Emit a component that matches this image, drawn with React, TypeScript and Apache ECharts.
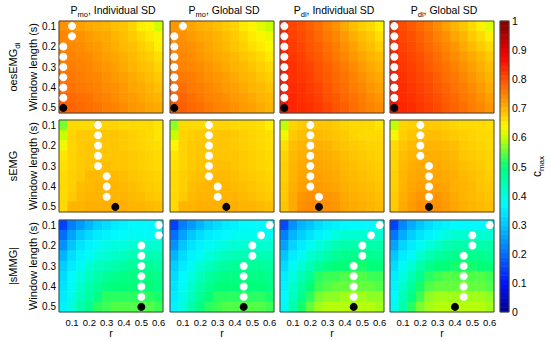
import React, { useEffect, useRef } from 'react';
import * as echarts from 'echarts';

// ---------- categories / ticks ----------
const rCats = ['0.05', '0.1', '0.15', '0.2', '0.25', '0.3', '0.35', '0.4', '0.45', '0.5', '0.55', '0.6'];
const wCats = ['0.1', '0.15', '0.2', '0.25', '0.3', '0.35', '0.4', '0.45', '0.5'];
const colSubs = ['mo', 'mo', 'di', 'di'];
const colNames = ['Individual SD', 'Global SD', 'Individual SD', 'Global SD'];
const rowMain = ['oesEMG', 'sEMG', '|sMMG|'];
const rowSubs = ['di', '', ''];
const colorbarTicks = [0, 1, 0.1]; // min, max, interval

// ---------- c_max values (rows = window length 0.1..0.5, cols = r 0.05..0.6) ----------
const oesPmoInd = [
  [0.735, 0.73, 0.72, 0.71, 0.705, 0.7, 0.69, 0.685, 0.67, 0.645, 0.64, 0.605],
  [0.745, 0.74, 0.735, 0.725, 0.715, 0.71, 0.7, 0.69, 0.68, 0.665, 0.65, 0.635],
  [0.75, 0.745, 0.74, 0.73, 0.725, 0.715, 0.705, 0.695, 0.69, 0.675, 0.665, 0.645],
  [0.755, 0.75, 0.745, 0.74, 0.73, 0.72, 0.715, 0.705, 0.695, 0.685, 0.675, 0.66],
  [0.76, 0.755, 0.75, 0.745, 0.735, 0.73, 0.72, 0.71, 0.7, 0.69, 0.685, 0.67],
  [0.765, 0.76, 0.755, 0.75, 0.745, 0.735, 0.725, 0.72, 0.71, 0.7, 0.69, 0.68],
  [0.775, 0.765, 0.76, 0.755, 0.75, 0.74, 0.735, 0.725, 0.715, 0.71, 0.7, 0.69],
  [0.78, 0.775, 0.77, 0.765, 0.755, 0.75, 0.74, 0.73, 0.725, 0.715, 0.705, 0.7],
  [0.785, 0.78, 0.775, 0.77, 0.765, 0.755, 0.75, 0.74, 0.73, 0.725, 0.715, 0.71],
];
const oesPmoGlob = [
  [0.73, 0.725, 0.715, 0.705, 0.7, 0.69, 0.68, 0.67, 0.65, 0.64, 0.62, 0.6],
  [0.74, 0.735, 0.725, 0.715, 0.71, 0.7, 0.69, 0.68, 0.665, 0.65, 0.635, 0.625],
  [0.745, 0.74, 0.735, 0.725, 0.715, 0.705, 0.695, 0.685, 0.675, 0.66, 0.65, 0.635],
  [0.75, 0.745, 0.74, 0.73, 0.72, 0.71, 0.705, 0.695, 0.685, 0.675, 0.665, 0.65],
  [0.755, 0.75, 0.745, 0.74, 0.73, 0.72, 0.71, 0.7, 0.695, 0.685, 0.675, 0.665],
  [0.765, 0.76, 0.755, 0.745, 0.735, 0.73, 0.72, 0.71, 0.7, 0.695, 0.685, 0.675],
  [0.775, 0.77, 0.76, 0.755, 0.745, 0.735, 0.725, 0.72, 0.71, 0.7, 0.695, 0.685],
  [0.785, 0.78, 0.77, 0.76, 0.75, 0.745, 0.735, 0.725, 0.72, 0.71, 0.7, 0.695],
  [0.79, 0.785, 0.775, 0.77, 0.76, 0.75, 0.745, 0.735, 0.725, 0.72, 0.71, 0.7],
];
const oesPdiInd = [
  [0.835, 0.81, 0.8, 0.785, 0.77, 0.75, 0.735, 0.71, 0.69, 0.675, 0.665, 0.645],
  [0.84, 0.815, 0.805, 0.79, 0.775, 0.76, 0.745, 0.725, 0.705, 0.69, 0.68, 0.66],
  [0.845, 0.82, 0.81, 0.795, 0.785, 0.77, 0.755, 0.735, 0.72, 0.7, 0.69, 0.675],
  [0.845, 0.825, 0.815, 0.8, 0.79, 0.775, 0.76, 0.745, 0.73, 0.715, 0.7, 0.69],
  [0.85, 0.83, 0.82, 0.81, 0.795, 0.785, 0.77, 0.755, 0.74, 0.725, 0.71, 0.7],
  [0.85, 0.83, 0.825, 0.815, 0.8, 0.79, 0.775, 0.765, 0.75, 0.735, 0.72, 0.71],
  [0.855, 0.835, 0.83, 0.82, 0.81, 0.795, 0.78, 0.77, 0.755, 0.745, 0.73, 0.72],
  [0.855, 0.84, 0.83, 0.825, 0.815, 0.8, 0.79, 0.775, 0.765, 0.755, 0.74, 0.73],
  [0.86, 0.84, 0.835, 0.83, 0.82, 0.81, 0.795, 0.785, 0.77, 0.76, 0.75, 0.74],
];
const oesPdiGlob = [
  [0.83, 0.805, 0.79, 0.775, 0.76, 0.74, 0.72, 0.7, 0.685, 0.665, 0.645, 0.615],
  [0.835, 0.81, 0.8, 0.785, 0.77, 0.75, 0.735, 0.715, 0.7, 0.68, 0.665, 0.645],
  [0.84, 0.815, 0.805, 0.79, 0.775, 0.76, 0.745, 0.73, 0.71, 0.695, 0.68, 0.665],
  [0.845, 0.82, 0.81, 0.8, 0.785, 0.77, 0.755, 0.74, 0.725, 0.71, 0.695, 0.68],
  [0.845, 0.825, 0.815, 0.805, 0.79, 0.775, 0.765, 0.75, 0.735, 0.72, 0.705, 0.69],
  [0.85, 0.83, 0.82, 0.81, 0.8, 0.785, 0.77, 0.76, 0.745, 0.73, 0.715, 0.7],
  [0.85, 0.835, 0.825, 0.815, 0.805, 0.79, 0.78, 0.765, 0.755, 0.74, 0.725, 0.71],
  [0.855, 0.835, 0.83, 0.82, 0.81, 0.8, 0.785, 0.775, 0.76, 0.75, 0.735, 0.72],
  [0.86, 0.84, 0.835, 0.825, 0.815, 0.805, 0.79, 0.78, 0.77, 0.755, 0.745, 0.73],
];
const sPmoInd = [
  [0.56, 0.665, 0.665, 0.665, 0.67, 0.67, 0.67, 0.665, 0.665, 0.665, 0.665, 0.655],
  [0.6, 0.67, 0.68, 0.68, 0.685, 0.685, 0.685, 0.68, 0.675, 0.67, 0.665, 0.655],
  [0.63, 0.67, 0.68, 0.685, 0.685, 0.685, 0.685, 0.68, 0.675, 0.67, 0.665, 0.66],
  [0.655, 0.67, 0.68, 0.685, 0.685, 0.685, 0.685, 0.685, 0.68, 0.675, 0.67, 0.665],
  [0.66, 0.67, 0.68, 0.685, 0.69, 0.69, 0.685, 0.685, 0.68, 0.675, 0.67, 0.665],
  [0.665, 0.675, 0.68, 0.695, 0.695, 0.695, 0.695, 0.69, 0.685, 0.68, 0.675, 0.67],
  [0.665, 0.675, 0.69, 0.695, 0.7, 0.7, 0.7, 0.695, 0.69, 0.685, 0.68, 0.675],
  [0.665, 0.68, 0.695, 0.7, 0.7, 0.7, 0.7, 0.7, 0.695, 0.69, 0.685, 0.68],
  [0.665, 0.7, 0.7, 0.705, 0.705, 0.705, 0.705, 0.705, 0.7, 0.7, 0.695, 0.69],
];
const sPmoGlob = [
  [0.57, 0.665, 0.665, 0.665, 0.67, 0.67, 0.67, 0.665, 0.665, 0.665, 0.66, 0.645],
  [0.6, 0.67, 0.675, 0.68, 0.685, 0.685, 0.685, 0.68, 0.675, 0.67, 0.665, 0.66],
  [0.64, 0.67, 0.68, 0.685, 0.685, 0.685, 0.685, 0.68, 0.675, 0.67, 0.665, 0.66],
  [0.655, 0.67, 0.68, 0.685, 0.685, 0.685, 0.685, 0.685, 0.68, 0.675, 0.67, 0.665],
  [0.66, 0.67, 0.68, 0.685, 0.69, 0.69, 0.69, 0.685, 0.68, 0.675, 0.67, 0.665],
  [0.665, 0.675, 0.685, 0.69, 0.695, 0.695, 0.695, 0.69, 0.685, 0.68, 0.675, 0.67],
  [0.665, 0.675, 0.69, 0.695, 0.7, 0.7, 0.7, 0.695, 0.69, 0.685, 0.68, 0.675],
  [0.665, 0.68, 0.695, 0.7, 0.7, 0.7, 0.7, 0.7, 0.695, 0.69, 0.685, 0.68],
  [0.665, 0.7, 0.7, 0.705, 0.705, 0.705, 0.705, 0.705, 0.7, 0.7, 0.695, 0.69],
];
const sPdiInd = [
  [0.595, 0.67, 0.68, 0.685, 0.685, 0.685, 0.68, 0.67, 0.665, 0.665, 0.665, 0.655],
  [0.63, 0.68, 0.69, 0.695, 0.695, 0.69, 0.685, 0.68, 0.67, 0.665, 0.665, 0.665],
  [0.66, 0.69, 0.7, 0.705, 0.705, 0.7, 0.69, 0.685, 0.68, 0.675, 0.67, 0.67],
  [0.67, 0.695, 0.705, 0.71, 0.71, 0.705, 0.7, 0.69, 0.685, 0.68, 0.675, 0.67],
  [0.675, 0.7, 0.71, 0.715, 0.715, 0.71, 0.705, 0.695, 0.69, 0.685, 0.68, 0.675],
  [0.675, 0.7, 0.715, 0.72, 0.72, 0.715, 0.71, 0.7, 0.695, 0.69, 0.685, 0.68],
  [0.68, 0.705, 0.72, 0.725, 0.725, 0.72, 0.715, 0.705, 0.7, 0.695, 0.69, 0.685],
  [0.68, 0.71, 0.73, 0.735, 0.735, 0.73, 0.725, 0.71, 0.705, 0.7, 0.695, 0.69],
  [0.685, 0.71, 0.735, 0.74, 0.74, 0.735, 0.73, 0.715, 0.71, 0.705, 0.7, 0.695],
];
const sPdiGlob = [
  [0.595, 0.67, 0.675, 0.68, 0.68, 0.68, 0.675, 0.67, 0.665, 0.665, 0.665, 0.66],
  [0.635, 0.675, 0.685, 0.69, 0.69, 0.69, 0.685, 0.68, 0.675, 0.67, 0.665, 0.665],
  [0.665, 0.685, 0.695, 0.7, 0.7, 0.7, 0.695, 0.69, 0.68, 0.675, 0.67, 0.665],
  [0.67, 0.69, 0.7, 0.705, 0.705, 0.705, 0.7, 0.695, 0.685, 0.68, 0.675, 0.67],
  [0.67, 0.695, 0.705, 0.71, 0.71, 0.71, 0.705, 0.7, 0.69, 0.685, 0.68, 0.67],
  [0.675, 0.7, 0.71, 0.715, 0.715, 0.715, 0.71, 0.705, 0.695, 0.69, 0.685, 0.675],
  [0.675, 0.7, 0.715, 0.72, 0.725, 0.72, 0.715, 0.705, 0.7, 0.695, 0.685, 0.68],
  [0.68, 0.705, 0.72, 0.73, 0.73, 0.73, 0.72, 0.71, 0.7, 0.695, 0.69, 0.685],
  [0.68, 0.71, 0.725, 0.735, 0.735, 0.735, 0.725, 0.715, 0.705, 0.7, 0.695, 0.69],
];
const mPmoInd = [
  [0.15, 0.22, 0.25, 0.28, 0.31, 0.33, 0.35, 0.36, 0.37, 0.37, 0.37, 0.37],
  [0.2, 0.26, 0.3, 0.33, 0.35, 0.36, 0.37, 0.375, 0.38, 0.38, 0.38, 0.38],
  [0.24, 0.3, 0.34, 0.36, 0.38, 0.39, 0.4, 0.4, 0.41, 0.41, 0.41, 0.41],
  [0.28, 0.33, 0.36, 0.38, 0.4, 0.41, 0.42, 0.43, 0.44, 0.44, 0.44, 0.44],
  [0.31, 0.35, 0.38, 0.41, 0.43, 0.44, 0.45, 0.46, 0.47, 0.47, 0.47, 0.46],
  [0.33, 0.37, 0.4, 0.43, 0.45, 0.47, 0.48, 0.49, 0.49, 0.49, 0.49, 0.48],
  [0.34, 0.38, 0.42, 0.45, 0.47, 0.49, 0.5, 0.5, 0.5, 0.5, 0.5, 0.49],
  [0.35, 0.39, 0.43, 0.46, 0.49, 0.52, 0.52, 0.52, 0.52, 0.52, 0.52, 0.51],
  [0.36, 0.4, 0.45, 0.48, 0.52, 0.53, 0.54, 0.54, 0.54, 0.54, 0.54, 0.53],
];
const mPmoGlob = [
  [0.15, 0.22, 0.25, 0.28, 0.31, 0.33, 0.35, 0.36, 0.37, 0.37, 0.37, 0.37],
  [0.2, 0.26, 0.3, 0.33, 0.35, 0.36, 0.37, 0.38, 0.385, 0.385, 0.38, 0.38],
  [0.24, 0.3, 0.34, 0.36, 0.38, 0.39, 0.4, 0.41, 0.41, 0.415, 0.41, 0.41],
  [0.28, 0.33, 0.36, 0.38, 0.4, 0.42, 0.43, 0.44, 0.44, 0.44, 0.44, 0.44],
  [0.31, 0.35, 0.38, 0.41, 0.43, 0.45, 0.46, 0.47, 0.47, 0.47, 0.47, 0.46],
  [0.33, 0.37, 0.4, 0.43, 0.46, 0.48, 0.49, 0.49, 0.49, 0.49, 0.49, 0.48],
  [0.34, 0.38, 0.42, 0.45, 0.48, 0.5, 0.5, 0.5, 0.5, 0.5, 0.5, 0.49],
  [0.35, 0.39, 0.43, 0.47, 0.5, 0.52, 0.52, 0.52, 0.52, 0.52, 0.52, 0.51],
  [0.36, 0.4, 0.45, 0.49, 0.52, 0.53, 0.54, 0.54, 0.54, 0.54, 0.54, 0.53],
];
const mPdiInd = [
  [0.16, 0.24, 0.28, 0.3, 0.33, 0.35, 0.36, 0.37, 0.37, 0.37, 0.37, 0.37],
  [0.22, 0.28, 0.31, 0.34, 0.36, 0.38, 0.4, 0.41, 0.41, 0.41, 0.41, 0.41],
  [0.26, 0.32, 0.35, 0.38, 0.4, 0.42, 0.44, 0.45, 0.45, 0.45, 0.45, 0.45],
  [0.3, 0.35, 0.38, 0.41, 0.43, 0.45, 0.47, 0.48, 0.48, 0.48, 0.48, 0.47],
  [0.33, 0.38, 0.41, 0.44, 0.47, 0.49, 0.5, 0.5, 0.51, 0.51, 0.5, 0.5],
  [0.35, 0.4, 0.44, 0.47, 0.52, 0.53, 0.53, 0.54, 0.54, 0.54, 0.53, 0.53],
  [0.36, 0.42, 0.46, 0.5, 0.53, 0.54, 0.55, 0.55, 0.55, 0.55, 0.55, 0.54],
  [0.37, 0.43, 0.48, 0.52, 0.56, 0.57, 0.57, 0.58, 0.58, 0.58, 0.57, 0.57],
  [0.38, 0.45, 0.51, 0.55, 0.58, 0.59, 0.59, 0.59, 0.59, 0.59, 0.59, 0.58],
];
const mPdiGlob = [
  [0.15, 0.23, 0.27, 0.3, 0.33, 0.35, 0.36, 0.37, 0.37, 0.37, 0.37, 0.37],
  [0.21, 0.27, 0.31, 0.34, 0.36, 0.38, 0.4, 0.41, 0.41, 0.41, 0.41, 0.41],
  [0.26, 0.32, 0.35, 0.38, 0.4, 0.42, 0.44, 0.45, 0.45, 0.45, 0.45, 0.45],
  [0.3, 0.35, 0.38, 0.41, 0.44, 0.46, 0.47, 0.48, 0.48, 0.48, 0.48, 0.47],
  [0.33, 0.38, 0.41, 0.45, 0.48, 0.5, 0.5, 0.51, 0.51, 0.51, 0.5, 0.5],
  [0.35, 0.4, 0.44, 0.48, 0.52, 0.53, 0.54, 0.54, 0.54, 0.54, 0.54, 0.53],
  [0.36, 0.42, 0.47, 0.51, 0.54, 0.55, 0.55, 0.55, 0.56, 0.55, 0.55, 0.54],
  [0.37, 0.44, 0.49, 0.53, 0.57, 0.58, 0.58, 0.58, 0.58, 0.58, 0.58, 0.57],
  [0.38, 0.45, 0.52, 0.56, 0.58, 0.59, 0.59, 0.59, 0.59, 0.59, 0.59, 0.58],
];

// ---------- best r index per window length (last row = chosen, black) ----------
const dotsOesPmoInd = [1, 1, 0, 0, 0, 0, 0, 0, 0];
const dotsOesPmoGlob = [1, 0, 0, 0, 0, 0, 0, 0, 0];
const dotsOesPdiInd = [0, 0, 0, 0, 0, 0, 0, 0, 0];
const dotsOesPdiGlob = [0, 0, 0, 0, 0, 0, 0, 0, 0];
const dotsSPmoInd = [4, 4, 4, 4, 4, 5, 5, 5, 6];
const dotsSPmoGlob = [4, 4, 4, 4, 4, 4, 5, 5, 6];
const dotsSPdiInd = [3, 3, 3, 3, 3, 3, 3, 4, 4];
const dotsSPdiGlob = [3, 3, 3, 3, 4, 4, 4, 4, 4];
const dotsMPmoInd = [11, 11, 9, 9, 9, 9, 9, 9, 9];
const dotsMPmoGlob = [11, 10, 9, 9, 8, 8, 8, 8, 8];
const dotsMPdiInd = [11, 10, 9, 9, 8, 8, 8, 8, 8];
const dotsMPdiGlob = [11, 9, 9, 8, 8, 8, 8, 8, 7];

const panels = [
  [oesPmoInd, oesPmoGlob, oesPdiInd, oesPdiGlob],
  [sPmoInd, sPmoGlob, sPdiInd, sPdiGlob],
  [mPmoInd, mPmoGlob, mPdiInd, mPdiGlob],
];
const dots = [
  [dotsOesPmoInd, dotsOesPmoGlob, dotsOesPdiInd, dotsOesPdiGlob],
  [dotsSPmoInd, dotsSPmoGlob, dotsSPdiInd, dotsSPdiGlob],
  [dotsMPmoInd, dotsMPmoGlob, dotsMPdiInd, dotsMPdiGlob],
];

// ---------- colormap (jet-like) ----------
const cmapStops: [number, number[]][] = [
  [0.0, [0, 0, 140]],
  [0.1, [0, 20, 255]],
  [0.2, [0, 110, 255]],
  [0.3, [0, 200, 255]],
  [0.37, [0, 250, 255]],
  [0.42, [0, 255, 200]],
  [0.5, [0, 255, 120]],
  [0.55, [100, 255, 60]],
  [0.6, [200, 255, 0]],
  [0.64, [255, 245, 0]],
  [0.7, [255, 180, 0]],
  [0.8, [255, 80, 0]],
  [0.875, [255, 0, 0]],
  [1.0, [128, 0, 0]],
];
function cmap(v: number): string {
  for (let i = 0; i < cmapStops.length - 1; i++) {
    const [a, ca] = cmapStops[i];
    const [b, cb] = cmapStops[i + 1];
    if (v <= b || i === cmapStops.length - 2) {
      const t = Math.max(0, Math.min(1, (v - a) / (b - a)));
      const c = ca.map((x, k) => Math.round(x + (cb[k] - x) * t));
      return `rgb(${c[0]},${c[1]},${c[2]})`;
    }
  }
  return '#000';
}
const N_LEVELS = 64;
const cmapColors = Array.from({ length: 101 }, (_, i) => cmap(i / 100));
const levelCats = Array.from({ length: N_LEVELS }, (_, i) => String(i));

// ---------- layout ----------
const FF = 'Liberation Sans, Arial, Helvetica, sans-serif';
const LEFTS = [59, 170, 280, 390];
const TOPS = [21, 120, 220];
const PW = 104;
const PH = 92;
const CB = { left: 500, top: 21, width: 9, height: 291 };

function buildOption() {
  const grid: any[] = [];
  const xAxis: any[] = [];
  const yAxis: any[] = [];
  const heat: any[] = [];
  const scat: any[] = [];
  for (let r = 0; r < 3; r++) {
    for (let c = 0; c < 4; c++) {
      const idx = r * 4 + c;
      grid.push({
        left: LEFTS[c], top: TOPS[r], width: PW, height: PH,
        show: true, borderColor: '#444', borderWidth: 1, backgroundColor: 'transparent',
        z: 10, outerBoundsMode: 'none', containLabel: false,
      });
      xAxis.push({
        type: 'category', gridIndex: idx, data: rCats,
        axisLine: { show: false }, axisTick: { show: false }, splitLine: { show: false },
        axisLabel: {
          show: r === 2, interval: (i: number) => i % 2 === 1,
          fontSize: 9.5, margin: 5, color: '#000', fontFamily: FF,
        },
        name: r === 2 ? 'r' : '', nameLocation: 'middle', nameGap: 14,
        nameTextStyle: { fontSize: 10.5, color: '#000', fontFamily: FF },
      });
      yAxis.push({
        type: 'category', gridIndex: idx, inverse: true, data: wCats,
        axisLine: { show: false }, axisTick: { show: false }, splitLine: { show: false },
        axisLabel: { show: c === 0, interval: 1, fontSize: 10, margin: 3, color: '#000', fontFamily: FF },
        name: c === 0 ? 'Window length (s)' : '', nameLocation: 'middle', nameRotate: 90, nameGap: 21,
        nameTextStyle: { fontSize: 11, color: '#000', fontFamily: FF },
      });
      const mat = panels[r][c];
      heat.push({
        type: 'heatmap', xAxisIndex: idx, yAxisIndex: idx, silent: true,
        data: mat.flatMap((row, ri) => row.map((v, ci) => [ci, ri, v])),
        itemStyle: { borderWidth: 0 }, emphasis: { disabled: true },
      });
      scat.push({
        type: 'scatter', xAxisIndex: idx, yAxisIndex: idx, silent: true, z: 12,
        symbol: 'circle', symbolSize: 8, emphasis: { disabled: true },
        itemStyle: { opacity: 1 },
        data: dots[r][c].map((ci, ri) => ({
          value: [ci, ri],
          itemStyle: { color: ri === dots[r][c].length - 1 ? '#000' : '#fff', opacity: 1 },
        })),
      });
    }
  }
  // colorbar
  grid.push({
    left: CB.left, top: CB.top, width: CB.width, height: CB.height,
    show: true, borderColor: '#444', borderWidth: 1, backgroundColor: 'transparent',
    z: 10, outerBoundsMode: 'none', containLabel: false,
  });
  xAxis.push({ type: 'category', gridIndex: 12, data: ['cb'], show: false });
  yAxis.push({ type: 'category', gridIndex: 12, data: levelCats, show: false });
  yAxis.push({
    type: 'value', gridIndex: 12, position: 'right',
    min: colorbarTicks[0], max: colorbarTicks[1], interval: colorbarTicks[2],
    axisLine: { show: false }, axisTick: { show: false }, splitLine: { show: false },
    axisLabel: { fontSize: 10.5, margin: 3, color: '#000', fontFamily: FF },
    name: '{c|c}{s|max}', nameLocation: 'middle', nameRotate: 90, nameGap: 20,
    nameTextStyle: {
      fontFamily: FF, color: '#000',
      rich: {
        c: { fontSize: 12, lineHeight: 16, verticalAlign: 'middle', color: '#000', fontFamily: FF },
        s: { fontSize: 8, lineHeight: 8, verticalAlign: 'bottom', color: '#000', fontFamily: FF },
      },
    },
  });
  heat.push({
    type: 'heatmap', xAxisIndex: 12, yAxisIndex: 12, silent: true,
    data: levelCats.map((_, i) => [0, i, (i + 0.5) / N_LEVELS]),
    itemStyle: { borderWidth: 0 }, emphasis: { disabled: true },
  });

  const graphic: any[] = [];
  for (let c = 0; c < 4; c++) {
    graphic.push({
      type: 'text', x: LEFTS[c] + PW / 2 + 2, y: 10, silent: true,
      style: {
        text: `{a|P}{b|${colSubs[c]}}{a|, ${colNames[c]}}`,
        align: 'center', verticalAlign: 'middle', fill: '#000',
        rich: {
          a: { fontSize: 10.5, lineHeight: 16, verticalAlign: 'middle', fill: '#000', color: '#000', fontFamily: FF },
          b: { fontSize: 7.5, lineHeight: 8, verticalAlign: 'bottom', fill: '#000', color: '#000', fontFamily: FF },
        },
      },
    });
  }
  for (let r = 0; r < 3; r++) {
    const t = rowSubs[r] ? `{a|${rowMain[r]}}{b|${rowSubs[r]}}` : `{a|${rowMain[r]}}`;
    graphic.push({
      type: 'text', x: 13, y: TOPS[r] + PH / 2, rotation: Math.PI / 2, silent: true,
      style: {
        text: t, align: 'center', verticalAlign: 'middle', fill: '#000',
        rich: {
          a: { fontSize: 11, lineHeight: 16, verticalAlign: 'middle', fill: '#000', color: '#000', fontFamily: FF },
          b: { fontSize: 8, lineHeight: 8, verticalAlign: 'bottom', fill: '#000', color: '#000', fontFamily: FF },
        },
      },
    });
  }

  return {
    animation: false,
    backgroundColor: '#fff',
    textStyle: { fontFamily: FF },
    grid, xAxis, yAxis,
    visualMap: {
      type: 'continuous', show: false, min: 0, max: 1,
      seriesIndex: Array.from({ length: 13 }, (_, i) => i),
      inRange: { color: cmapColors },
    },
    series: [...heat, ...scat],
    graphic,
  };
}

export default function App() {
  const ref = useRef<HTMLDivElement>(null);
  useEffect(() => {
    if (!ref.current) return;
    const chart = echarts.init(ref.current, null, { renderer: 'svg' });
    chart.setOption(buildOption() as any);
    return () => chart.dispose();
  }, []);
  return (
    <div
      ref={ref}
      style={{ position: 'absolute', left: 0, top: 0, width: 550, height: 340, background: '#fff' }}
    />
  );
}
